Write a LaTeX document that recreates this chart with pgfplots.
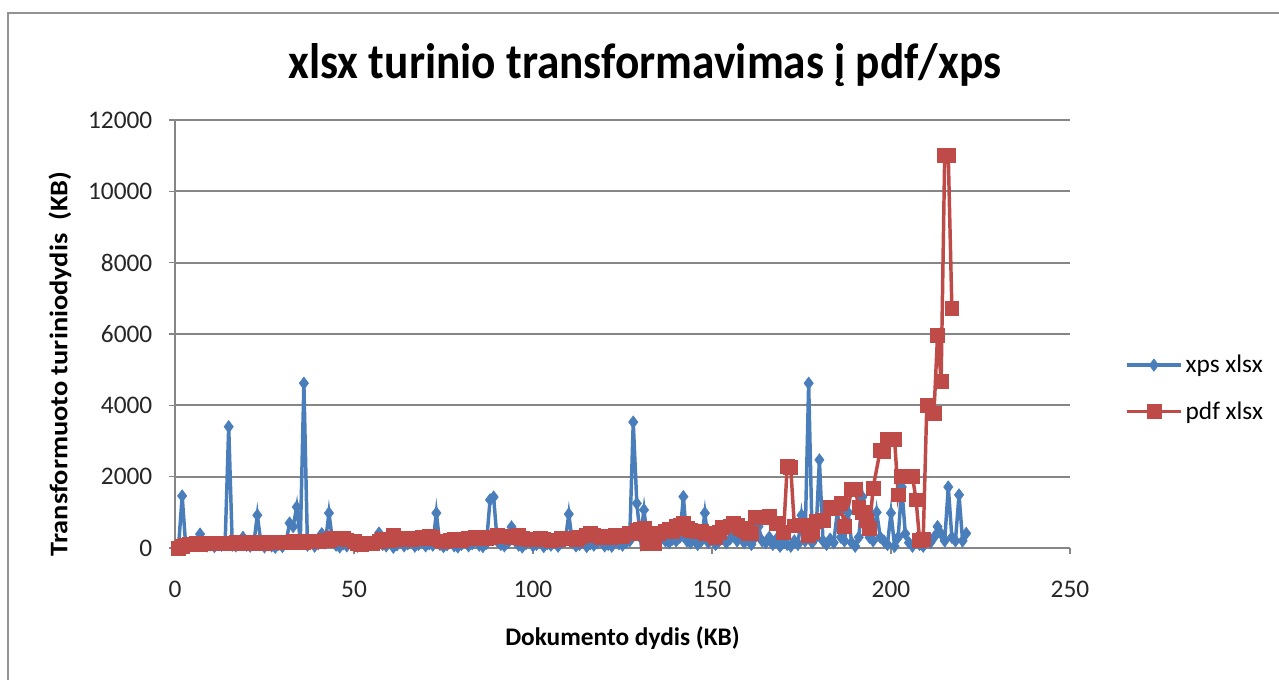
\documentclass[border=0pt]{standalone}
\usepackage{pgfplots}
\pgfplotsset{compat=1.18}
\usepackage{fontspec}
\setmainfont{Carlito}
\definecolor{xpsblue}{HTML}{4A7EBB}
\definecolor{pdfred}{HTML}{BE4B48}
\definecolor{gridgray}{HTML}{868686}
\begin{document}
\begin{tikzpicture}[x=0.75pt,y=0.75pt]
\useasboundingbox (0,0) rectangle (1279,679);
\draw[color=gridgray!90, line width=1.5pt] (8,-5) -- (8,666) -- (1290,666);
\begin{axis}[
  at={(131.25pt,98.25pt)}, anchor=south west, scale only axis,
  width=671.25pt, height=321pt,
  xmin=0, xmax=250, ymin=0, ymax=12000,
  xtick={0,50,...,250}, ytick={0,2000,...,12000},
  scaled ticks=false,
  /pgf/number format/1000 sep={},
  /pgf/number format/assume math mode=true,
  axis x line*=bottom, axis y line*=left,
  axis line style={gridgray, line width=1.3pt, -},
  tick align=outside, major tick length=4.5pt,
  tick style={gridgray, line width=1.1pt},
  ymajorgrids, grid style={gridgray, line width=1.3pt},
  ticklabel style={font=\fontsize{19}{22}\selectfont, text=black!85},
  xticklabel style={yshift=-17pt},
  yticklabel style={xshift=-9pt},
  clip=false,
  title={xlsx turinio transformavimas į pdf/xps},
  title style={font=\fontsize{34}{40}\selectfont\bfseries, yscale=1.1, at={(axis description cs:0.525,1.11)}, anchor=center},
  xlabel={Dokumento dydis (KB)},
  xlabel style={font=\fontsize{19}{22}\selectfont\bfseries, at={(axis description cs:0.5,-0.21)}, anchor=center},
  ylabel={Transformuoto turiniodydis\ \ (KB)},
  ylabel style={font=\fontsize{19}{22}\selectfont\bfseries, xscale=1.12, at={(axis description cs:-0.1285,0.43)}, anchor=center},
  legend style={at={(axis description cs:1.061,0.457)}, anchor=north west, draw=none, fill=none,
    font=\fontsize{19}{22}\selectfont, row sep=16pt, inner sep=0pt},
  legend cell align=left,
  legend image code/.code={\draw[mark repeat=2,mark phase=2,#1] plot coordinates {(0pt,0pt) (20.5pt,0pt) (41pt,0pt)};},
]
\addplot[color=xpsblue, line width=2.6pt, mark=diamond*, mark size=4.6pt, mark options={fill=xpsblue, line width=0.5pt}] coordinates {
(1,50)(2,1460)(3,60)(4,100)(5,80)(6,150)(7,390)(8,120)(9,60)(10,90)(11,40)(12,100)(13,80)(14,120)(15,3400)(16,80)(17,60)(18,110)(19,300)(20,80)(21,50)(22,120)(23,920)(24,150)(25,30)(26,90)(27,60)(28,20)(29,100)(30,40)(31,150)(32,700)(33,600)(34,1150)(35,200)(36,4620)(37,80)(38,150)(39,50)(40,120)(41,400)(42,150)(43,980)(44,200)(45,80)(46,30)(47,120)(48,60)(50,100)(51,50)(53,120)(54,80)(56,150)(57,420)(58,100)(59,60)(61,20)(62,90)(64,60)(65,120)(67,50)(68,100)(70,60)(71,120)(72,80)(73,980)(74,100)(75,40)(76,90)(78,60)(79,30)(80,100)(82,60)(83,120)(85,80)(86,40)(87,130)(88,1350)(89,1430)(90,200)(91,100)(92,60)(93,150)(94,590)(95,200)(96,80)(97,30)(98,120)(100,60)(101,100)(103,40)(104,120)(105,80)(107,50)(108,150)(109,200)(110,950)(111,150)(112,60)(113,100)(115,40)(116,120)(117,80)(118,150)(120,60)(121,100)(122,50)(124,120)(125,80)(126,150)(127,200)(128,3530)(129,1250)(130,300)(131,1070)(132,200)(133,120)(134,250)(135,150)(136,300)(137,200)(138,150)(139,250)(140,200)(141,300)(142,1440)(143,200)(144,150)(145,300)(146,100)(147,200)(148,980)(149,150)(150,250)(151,100)(152,200)(153,300)(154,150)(155,250)(156,350)(157,200)(158,300)(159,150)(160,250)(161,100)(162,300)(163,600)(164,200)(165,150)(166,300)(167,100)(168,250)(169,50)(170,150)(171,100)(172,50)(173,200)(174,100)(175,920)(176,200)(177,4620)(178,150)(179,300)(180,2470)(181,200)(182,100)(183,250)(184,150)(185,1010)(186,300)(187,200)(188,1000)(189,150)(190,50)(191,300)(192,1430)(193,600)(194,300)(195,200)(196,1000)(197,300)(198,200)(199,100)(200,980)(201,50)(202,300)(203,1710)(204,400)(205,150)(206,50)(207,200)(208,100)(209,50)(210,200)(211,150)(212,300)(213,600)(214,400)(215,200)(216,1710)(217,300)(218,200)(219,1490)(220,200)(221,410)
};
\addlegendentry{xps xlsx}
\addplot[color=pdfred, line width=2.6pt, mark=square*, mark size=5.2pt, mark options={fill=pdfred, line width=0.5pt}] coordinates {
(1,0)(2,50)(3,90)(4,100)(5,110)(6,120)(7,110)(8,120)(9,130)(10,120)(12,130)(13,120)(14,140)(16,130)(17,150)(18,140)(20,150)(21,130)(22,160)(24,150)(25,140)(27,160)(28,150)(30,170)(31,160)(33,180)(34,170)(36,150)(37,190)(39,200)(40,180)(42,220)(43,200)(44,260)(45,270)(46,280)(47,260)(48,230)(50,180)(51,120)(52,100)(54,140)(55,120)(57,180)(58,250)(60,200)(61,350)(63,280)(64,250)(66,230)(67,280)(69,300)(70,260)(71,320)(72,300)(74,200)(75,180)(77,220)(78,250)(80,200)(82,260)(84,300)(85,260)(87,280)(88,300)(90,350)(91,330)(93,320)(94,300)(96,350)(97,280)(99,250)(100,230)(102,280)(103,250)(105,200)(107,230)(108,260)(110,280)(112,240)(113,300)(115,360)(116,420)(117,350)(119,300)(120,320)(122,300)(123,350)(125,330)(127,400)(128,420)(129,500)(130,520)(131,560)(132,120)(133,140)(134,130)(135,400)(137,480)(138,520)(139,470)(140,600)(141,650)(142,700)(143,550)(144,500)(146,460)(147,480)(148,420)(150,380)(151,300)(152,450)(153,580)(155,620)(156,700)(157,650)(158,560)(159,500)(160,420)(161,400)(162,850)(164,870)(166,880)(168,700)(170,450)(171,2280)(172,2250)(173,620)(175,640)(177,360)(178,450)(179,740)(181,780)(183,1150)(184,1100)(186,1260)(187,600)(189,1650)(190,1650)(191,1150)(192,1000)(193,780)(194,560)(195,1680)(197,2750)(198,2700)(199,3050)(201,3050)(202,1490)(203,2000)(205,2000)(206,2000)(207,1350)(208,220)(209,250)(210,4000)(212,3780)(213,5970)(214,4680)(215,11000)(216,11000)(217,6730)
};
\addlegendentry{pdf xlsx}
\end{axis}
\end{tikzpicture}
\end{document}
